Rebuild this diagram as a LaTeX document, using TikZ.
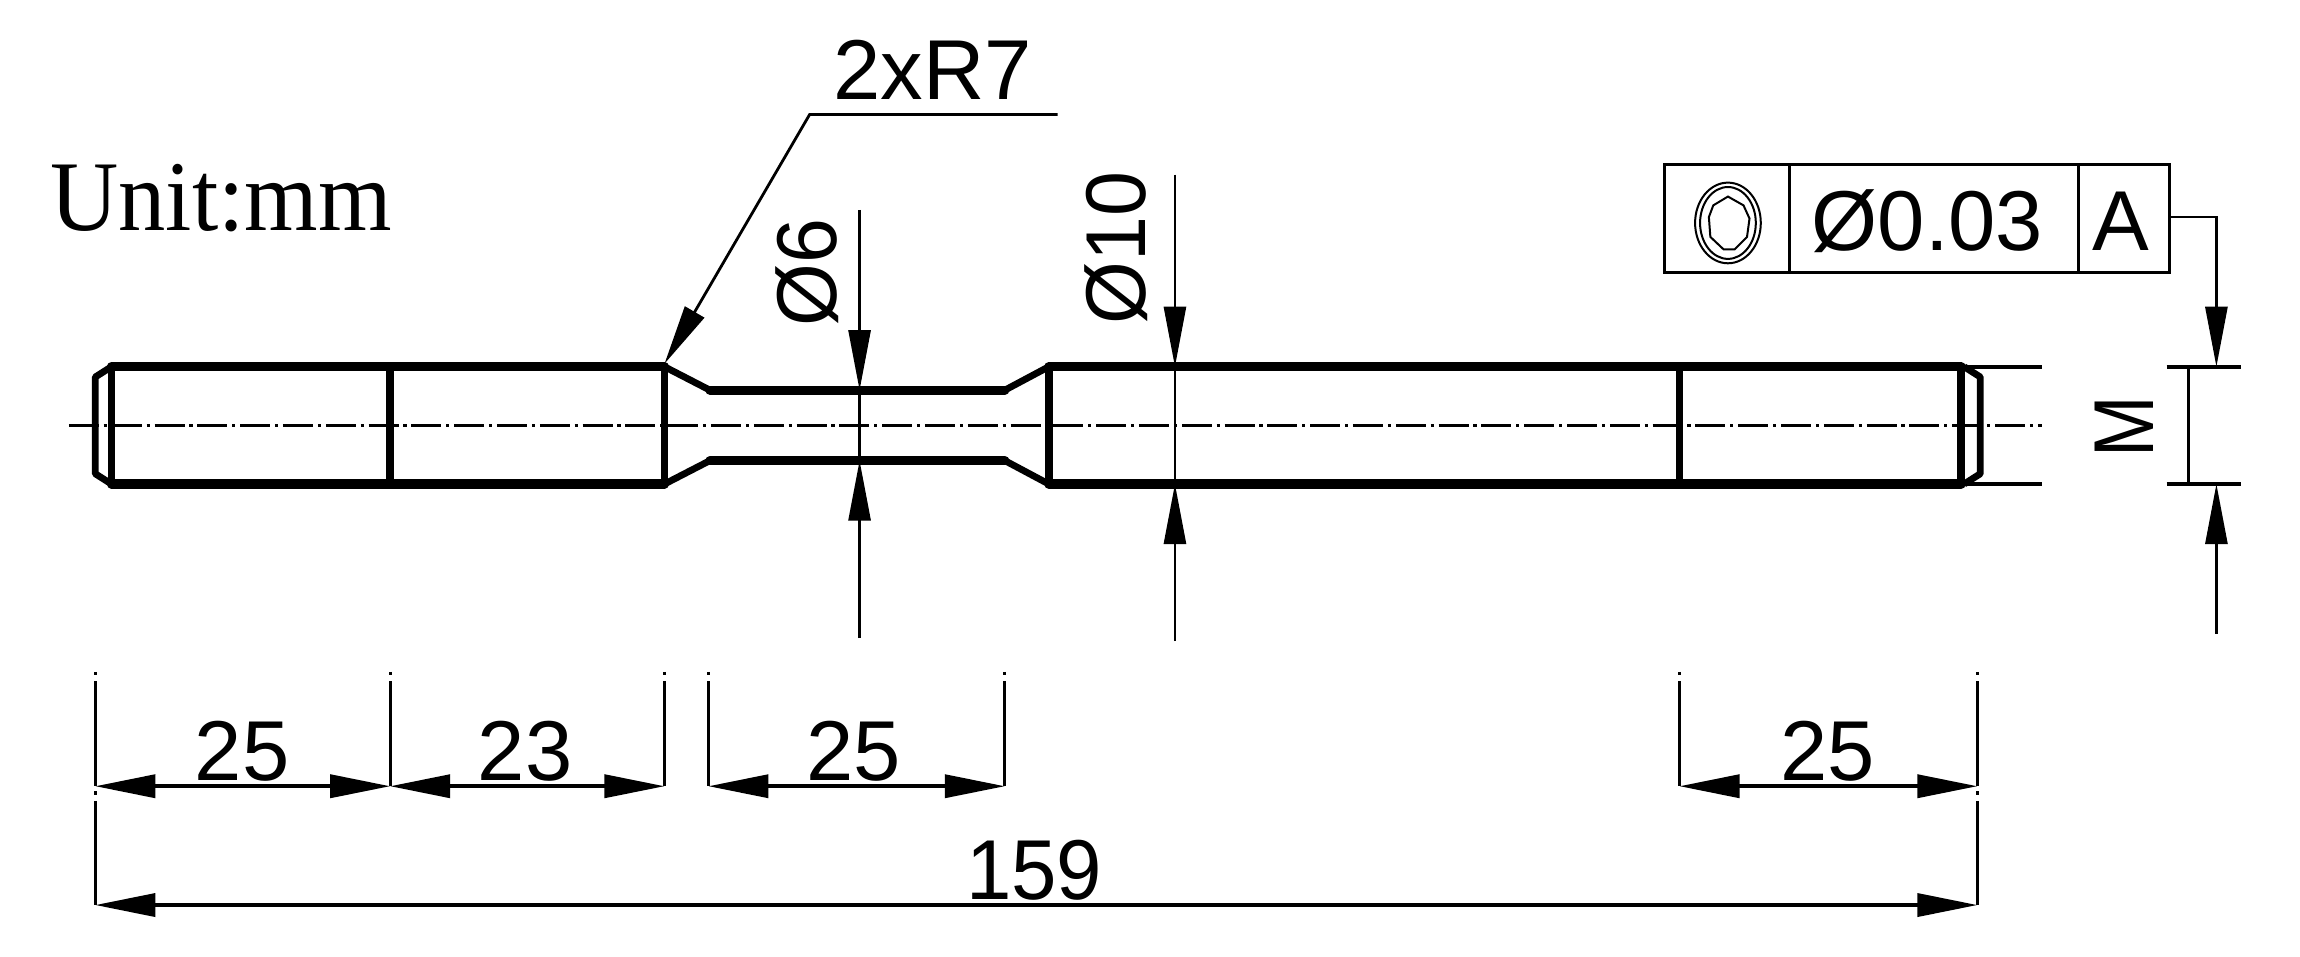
\documentclass[tikz,border=0pt]{standalone}
\usepackage{fontspec}
\setmainfont{Liberation Sans}
\newfontfamily\unitfont{Liberation Serif}
\usetikzlibrary{arrows.meta}
\def\uu{0.7334}
\tikzset{
  thickh/.style={line width=4.6pt,line cap=round,line join=round},
  thickv/.style={line width=3.9pt,line cap=round,line join=round},
  slant/.style={line width=3.4pt,line join=round},
  thinh/.style={line width=1.8pt},
  thinv/.style={line width=1.35pt},
  thinbox/.style={line width=1.4pt},
  framebox/.style={draw,thinbox,minimum height=74*\uu pt,inner sep=0pt,outer sep=0pt,anchor=north west},
  centreline/.style={line width=1.5pt,dash pattern=on 15pt off 2.4pt on 1.6pt off 2.4pt},
  tiph/.style={{Triangle[length=30pt,width=11.5pt]}-{Triangle[length=30pt,width=11.5pt]}},
  tipv/.style={-{Triangle[length=30pt,width=11pt]}},
  lab/.style={inner sep=0pt,font=\fontsize{42.5}{42.5}\selectfont,anchor=base},
  extline/.style={thinv,dash pattern=on 1.8pt off 3pt on 200pt off 0pt}
}
\begin{document}
\begin{tikzpicture}[x=\uu pt,y=-\uu pt]
\useasboundingbox (0,0) rectangle (1568,651.8);
% centre line
\coordinate (cl) at (47,290); \coordinate (cr) at (1392,290);
\draw[centreline] (cl) -- (cr);
% shaft outline
\draw[thickh] (76,250) -- (453,250) (76,330) -- (453,330)
  (484,266) -- (685,266) (484,314) -- (685,314)
  (715,250) -- (1337,250) (715,330) -- (1337,330);
\draw[slant] (453,250) -- (484,266) (453,330) -- (484,314)
  (685,266) -- (715,250) (685,314) -- (715,330);
\draw[thickv] (76,250) -- (76,330) (266,250) -- (266,330) (453,250) -- (453,330)
  (715,250) -- (715,330) (1145,250) -- (1145,330) (1337,250) -- (1337,330);
\draw[slant] (76,250) -- (65,257) -- (65,323) -- (76,330);
\draw[slant] (1339,250) -- (1350,257) -- (1350,323) -- (1339,330);
% right extension lines
\coordinate (er1) at (1339,250); \coordinate (er1e) at (1392,250);
\coordinate (er2) at (1339,330); \coordinate (er2e) at (1392,330);
\draw[thinh] (er1) -- (er1e) (er2) -- (er2e);
% leader 2xR7
\coordinate (l0) at (721,78); \coordinate (l1) at (552,78); \coordinate (l2) at (453,248);
\draw[thinbox,tipv] (l0) -- (l1) -- (l2);
\node[lab] (tr7) at (636,68) {2xR7};
% diameter 6
\coordinate (d6a) at (586,143); \coordinate (d6b) at (586,266);
\coordinate (d6c) at (586,435); \coordinate (d6d) at (586,314);
\draw[thinv,tipv] (d6a) -- (d6b);
\draw[thinv,tipv] (d6c) -- (d6d);
\draw[thinv] (d6b) -- (d6d);
\node[lab,rotate=90] (t6) at (570,186) {\scalebox{.95}[1]{Ø6}};
% diameter 10
\coordinate (d10a) at (801,119); \coordinate (d10b) at (801,250);
\coordinate (d10c) at (801,437); \coordinate (d10d) at (801,330);
\draw[thinv,tipv] (d10a) -- (d10b);
\draw[thinv,tipv] (d10c) -- (d10d);
\draw[thinv] (d10b) -- (d10d);
\node[lab,rotate=90] (t10) at (781,169) {\scalebox{.95}[1]{Ø10}};
% feature control frame
\node[framebox,minimum width=85*\uu pt] (f1) at (1135,112) {};
\node[framebox,minimum width=197*\uu pt] (f2) at (1220,112) {};
\node[framebox,minimum width=62*\uu pt] (f3) at (1417,112) {};
\node[lab] (t003) at (1314,171) {Ø0.03};
\node[lab] (tA) at (1446,171) {A};
\coordinate (sym) at (1178,152);
\draw[line width=1pt] (sym) ellipse [x radius=22.4,y radius=27.5];
\draw[line width=1pt] (sym) ellipse [x radius=19,y radius=24.5];
\draw[line width=1pt,shift={(sym)}] (0,-18) -- (-10,-12) -- (-13,-4) -- (-12,9.5) -- (-3,18) -- (4.5,18) -- (13,9.5) -- (14.7,-3) -- (10.6,-12) -- cycle;
% datum
\coordinate (a0) at (1511,148); \coordinate (a1) at (1511,250);
\draw[thinbox,tipv] (f3.east |- a0) -- (a0) -- (a1);
\coordinate (a2) at (1511,432); \coordinate (a3) at (1511,330);
\draw[thinv,tipv] (a2) -- (a3);
\coordinate (t1a) at (1477,250); \coordinate (t1b) at (1528,250);
\coordinate (t2a) at (1477,330); \coordinate (t2b) at (1528,330);
\draw[thinh] (t1a) -- (t1b) (t2a) -- (t2b);
\coordinate (mv1) at (1492,250); \coordinate (mv2) at (1492,330);
\draw[thinv] (mv1) -- (mv2);
\node[lab,rotate=90] (tM) at (1468,291) {\scalebox{.87}[1]{M}};
% horizontal dimensions
\foreach \n/\x in {A/65,B/266,C/453,D/483,E/685,F/1145,G/1348}{
  \coordinate (e\n t) at (\x,458); \coordinate (e\n b) at (\x,536);
  \draw[extline] (e\n t) -- (e\n b);
}
\coordinate (eHt) at (65,539.5); \coordinate (eHb) at (65,617);
\coordinate (eIt) at (1348,539.5); \coordinate (eIb) at (1348,617);
\draw[extline] (eHt) -- (eHb);
\draw[extline] (eIt) -- (eIb);
\draw[thinh,tiph] (eAb) -- (eBb);
\draw[thinh,tiph] (eBb) -- (eCb);
\draw[thinh,tiph] (eDb) -- (eEb);
\draw[thinh,tiph] (eFb) -- (eGb);
\draw[thinh,tiph] (eHb) -- (eIb);
\node[lab] (t25a) at (165,532) {25};
\node[lab] (t23) at (358,532) {23};
\node[lab] (t25b) at (582,532) {25};
\node[lab] (t25c) at (1246,532) {25};
\node[lab] (t159) at (705,613) {\scalebox{.96}[1]{159}};
% unit
\node[inner sep=0pt,anchor=base west,font=\unitfont\fontsize{50}{50}\selectfont] (unit) at (34,157) {\scalebox{.945}[1]{Unit:mm}};
\end{tikzpicture}
\end{document}
